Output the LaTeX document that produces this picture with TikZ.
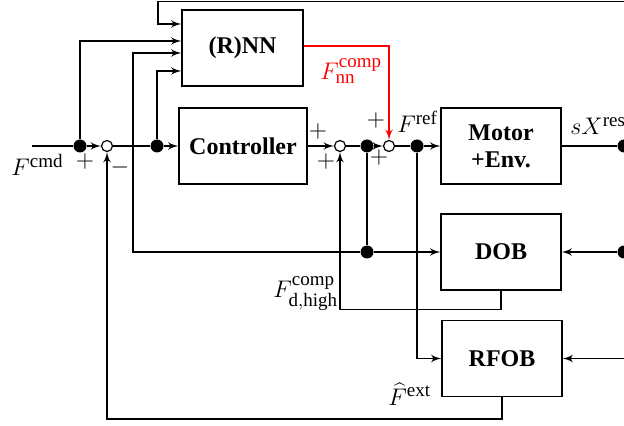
\documentclass[tikz,border=0pt]{standalone}
\usepackage{fontspec}
\setmainfont{Liberation Serif}
\DeclareMathSizes{12.5}{12.5}{9.5}{7.5}
\usetikzlibrary{arrows,positioning}

\begin{document}
\begin{tikzpicture}[x=0.5pt,y=-0.5pt]

\tikzset{block/.style = {shape=rectangle,draw,line width=0.6pt,minimum width=60pt,minimum height=38pt,align=center,font=\bfseries\fontsize{12}{13.5}\selectfont}}
\tikzset{sum/.style = {shape=circle,draw,line width=0.6pt,fill=white,inner sep=0pt,minimum size=5.5pt}}
\tikzset{dot/.style = {shape=circle,fill,inner sep=0pt,minimum size=6.5pt}}
\tikzset{sig/.style = {->,line width=0.8pt,> = latex'}}
\tikzset{wire/.style = {line width=0.8pt}}
\tikzset{lbl/.style = {inner sep=0pt,font=\fontsize{12.5}{14}\selectfont}}

\useasboundingbox (0,0) rectangle (624,426);

% blocks
\node[block, minimum width=60.5pt] (nn) at (242.5,48) {(R)NN};
\node[block, minimum width=64pt] (ctrl) at (243,146) {Controller};
\node[block] (motor) at (501,146) {Motor\\+Env.};
\node[block] (dob) at (501,252) {DOB};
\node[block] (rfob) at (502,358.5) {RFOB};

% junctions
\node[dot] (d1) at (80,146) {};
\node[sum] (s1) at (107,146) {};
\node[dot] (d2) at (157,146) {};
\node[sum] (s2) at (340,146) {};
\node[dot] (d3) at (367,146) {};
\node[sum] (s3) at (389,146) {};
\node[dot] (d4) at (417,146) {};
\node[dot] (d5) at (367,252) {};
\node[dot] (out) at (624,146) {};
\node[dot] (fb) at (624,252) {};
\coordinate (in) at (32,146);
\coordinate (top) at (624,1.5);
\coordinate (fr) at (624,358.5);

% labels
\node[lbl, anchor=base west] (lcmd) at (11,176) {$F^{\mathrm{cmd}}$};
\node[lbl] (p1) at (85,162) {$+$};
\node[lbl] (m1) at (120,168) {$-$};
\node[lbl] (p2) at (318,132) {$+$};
\node[lbl] (p3) at (326,162) {$+$};
\node[lbl] (p4) at (376,121) {$+$};
\node[lbl] (p5) at (379,158) {$+$};
\node[lbl, anchor=base west] (lref) at (397,133) {$F^{\mathrm{ref}}$};
\node[lbl, anchor=base west] (lres) at (570,135) {$sX^{\mathrm{res}}$};
\node[lbl, anchor=base west, red] (lnn) at (320,80) {$F^{\mathrm{comp}}_{\mathrm{nn}}$};
\node[lbl, anchor=base west] (ldh) at (273,298) {$F^{\mathrm{comp}}_{\mathrm{d,high}}$};
\node[lbl, anchor=base west] (lext) at (388,405) {$\widehat{F}^{\mathrm{ext}}$};

%edges
\draw[wire] (in) -- (d1);
\draw[sig] (d1) -- (s1);
\draw[wire] (s1) -- (d2);
\draw[sig] (d2) -- (ctrl);
\draw[sig] (ctrl) -- (s2);
\draw[wire] (s2) -- (d3);
\draw[sig] (d3) -- (s3);
\draw[wire] (s3) -- (d4);
\draw[sig] (d4) -- (motor);
\draw[wire] (motor) -- (out);

% inputs of (R)NN
\draw[sig] (top) -| (158,24) -- ([yshift=12pt]nn.west);
\draw[sig] (d1) |- ([yshift=3.5pt]nn.west);
\draw[sig] (d5) -- (133,252) |- ([yshift=-2.5pt]nn.west);
\draw[sig] (d2) |- ([yshift=-11.5pt]nn.west);
\draw[sig, red] ([yshift=1pt]nn.east) -| (s3);

% observers
\draw[wire] (d3) -- (d5);
\draw[sig] (d5) -- (dob);
\draw[sig] (fb) -- (dob);
\draw[sig] (dob.south) -- ++(0,19) -| (s2);
\draw[sig] (d4) |- (rfob);
\draw[sig] (fr) -- (rfob);
\draw[sig] (rfob.south) -- ++(0,22) -| (s1);

\end{tikzpicture}
\end{document}
